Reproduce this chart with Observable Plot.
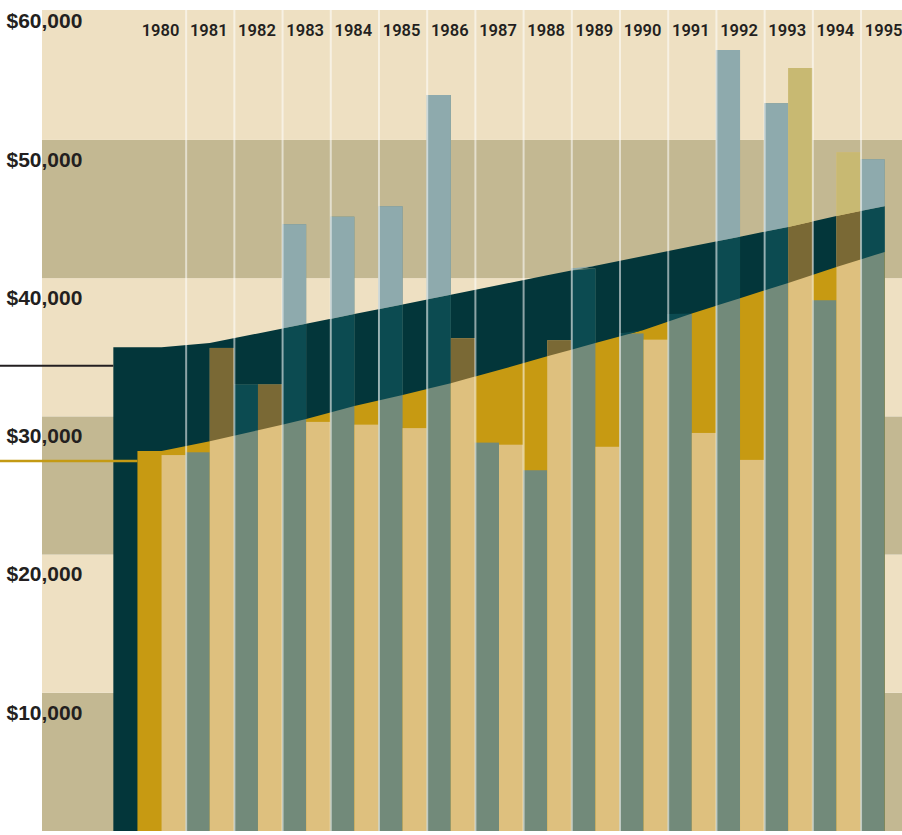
<!DOCTYPE html>
<html>
<head>
<meta charset="utf-8">
<script src="https://cdn.jsdelivr.net/npm/d3@7"></script>
<script src="https://cdn.jsdelivr.net/npm/@observablehq/plot@0.6"></script>
<style>
  html, body { margin: 0; padding: 0; background: #ffffff; }
  #chart svg { display: block; }
</style>
</head>
<body>
<div id="chart"></div>
<script>
// ---- data ----
const years = [1980, 1981, 1982, 1983, 1984, 1985, 1986, 1987, 1988, 1989, 1990, 1991, 1992, 1993, 1994, 1995];
// left bar of each year (grey-green)
const greyValues = [null, 27400, 32300, 43900, 44450, 45200, 53250, 28100, 26100, 40700, 36000, 37400, 56500, 52650, 38400, 48600];
// right bar of each year (tan)
const tanValues = [27200, 34950, 32300, 29600, 29400, 29150, 35650, 27950, 35500, 27800, 35550, 28800, 26850, 55200, 49100, null];
// upper edge of the dark band
const upperValues = [35000, 35300, 36000, 36700, 37400, 38100, 38800, 39500, 40200, 40900, 41600, 42300, 43000, 43700, 44500, 45200];
// lower edge of the dark band
const lowerValues = [27500, 28200, 29000, 29800, 30750, 31550, 32400, 33350, 34350, 35300, 36250, 37450, 38550, 39650, 40800, 41900];
// y tick labels and background bands
const yTicks = [10000, 20000, 30000, 40000, 50000, 60000];
const bandStarts = [0, 10000, 20000, 30000, 40000, 50000];
// leader lines at the left edge
const pointerValues = [33700, 26800];

// ---- tables built from the arrays ----
const upperLine = [{x: years[0] - 1, v: upperValues[0]}, ...years.map((x, i) => ({x, v: upperValues[i]}))];
const lowerLine = [{x: years[0] - 0.5, v: lowerValues[0]}, ...years.map((x, i) => ({x, v: lowerValues[i]}))];

function interp(line, x) {
  if (x <= line[0].x) return line[0].v;
  for (let i = 1; i < line.length; i++) {
    if (x <= line[i].x) {
      const a = line[i - 1], b = line[i];
      return a.v + (b.v - a.v) * (x - a.x) / (b.x - a.x);
    }
  }
  return line[line.length - 1].v;
}

const bars = [];
years.forEach((yr, i) => {
  if (greyValues[i] != null) bars.push({id: "g" + yr, kind: "grey", x1: yr - 0.5, x2: yr, v: greyValues[i]});
  if (tanValues[i] != null) bars.push({id: "t" + yr, kind: "tan", x1: yr, x2: yr + 0.5, v: tanValues[i]});
});

const inBand = [], above = [];
for (const b of bars) {
  for (const x of [b.x1, b.x2]) {
    const lo = interp(lowerLine, x), up = interp(upperLine, x);
    inBand.push({id: b.id, kind: b.kind, x, y1: lo, y2: Math.max(lo, Math.min(b.v, up))});
    above.push({id: b.id, kind: b.kind, x, y1: up, y2: Math.max(up, b.v)});
  }
}

const palette = {
  grey: {base: "#728a7a", band: "#0c4b51", above: "#8eaaad"},
  tan:  {base: "#dec07e", band: "#7a6935", above: "#c8b972"}
};

const chart = Plot.plot({
  width: 902,
  height: 835,
  marginTop: 10,
  marginBottom: 4,
  marginLeft: 42,
  marginRight: 0,
  x: {domain: [1977.52, 1995.36], axis: null},
  y: {domain: [0, 59400], axis: null},
  color: {type: "identity"},
  style: {background: "#ffffff", overflow: "hidden"},
  marks: [
    Plot.rect(bandStarts, {y1: d => d, y2: d => d + 10000, fill: d => (d / 10000) % 2 ? "#eee0c2" : "#c3b892", clip: true}),
    Plot.areaY(upperLine, {x: "x", y1: 0, y2: "v", fill: "#03363a", curve: "linear"}),
    Plot.areaY(lowerLine, {x: "x", y1: 0, y2: "v", fill: "#c79a12", curve: "linear"}),
    Plot.rect(bars, {x1: "x1", x2: "x2", y1: 0, y2: "v", fill: d => palette[d.kind].base}),
    Plot.areaY(inBand, {x: "x", y1: "y1", y2: "y2", z: "id", fill: d => palette[d.kind].band, curve: "linear"}),
    Plot.areaY(above, {x: "x", y1: "y1", y2: "y2", z: "id", fill: d => palette[d.kind].above, curve: "linear"}),
    Plot.ruleX(years.slice(1).map(y => y - 0.5), {stroke: "#ffffff", strokeOpacity: 0.55, strokeWidth: 2}),
    Plot.ruleY([pointerValues[0]], {x1: 1976, x2: years[0] - 1, stroke: "#231f20", strokeWidth: 2}),
    Plot.ruleY([pointerValues[1]], {x1: 1976, x2: years[0] - 0.5, stroke: "#c49a14", strokeWidth: 2.5}),
    Plot.text(yTicks, {
      y: d => d, frameAnchor: "left", dx: -36, dy: 19.5, textAnchor: "start",
      text: d => "$" + d3.format(",")(d),
      fontSize: 21, fontWeight: "bold", fontFamily: "'Liberation Sans', Arial, sans-serif", fill: "#231f20"
    }),
    Plot.text(years, {
      x: d => d, frameAnchor: "top", dy: 13.5, dx: -1.5,
      text: d => String(d),
      fontSize: 16.5, fontWeight: 600, fontFamily: "Roboto, sans-serif", fill: "#231f20"
    })
  ]
});
document.getElementById("chart").appendChild(chart);
</script>
</body>
</html>
